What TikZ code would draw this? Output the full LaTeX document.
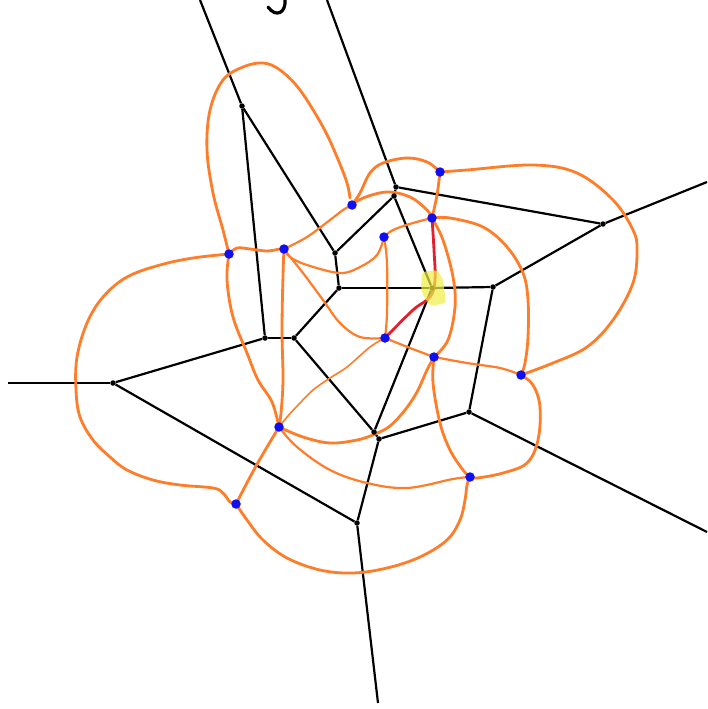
\documentclass[tikz,border=0pt]{standalone}
\usepackage{xcolor}
\usepackage{tikz}
\usetikzlibrary{arrows.meta, positioning}
\definecolor{penorange}{RGB}{255,125,40}
\definecolor{penred}{RGB}{228,30,45}
\definecolor{penblue}{RGB}{15,15,240}
\definecolor{marker}{RGB}{240,240,70}
\pgfdeclarelayer{edges}
\pgfdeclarelayer{curves}
\pgfsetlayers{edges,curves,main}

\begin{document}
\begin{tikzpicture}[x=1pt, y=-1pt,
    vertex/.style={circle, fill=black, inner sep=0pt, minimum size=5.5pt},
    site/.style={circle, fill=penblue, inner sep=0pt, minimum size=9.5pt},
    cell/.style={line width=2.2pt, black},
    stroke/.style={line width=2.8pt, penorange, line cap=round, line join=round},
    midstroke/.style={stroke, line width=2.2pt},
    thinstroke/.style={line width=1.6pt, penorange, line cap=round, line join=round}]
    \useasboundingbox (0,0) rectangle (707,709);

    \node[vertex] (va) at (242,106) {};
    \node[vertex] (vb) at (396,187) {};
    \node[vertex] (vb2) at (394,196) {};
    \node[vertex] (vc) at (603,224) {};
    \node[vertex] (vd) at (335,253) {};
    \node[vertex] (ve) at (339,288) {};
    \node[vertex] (vm) at (432,288) {};
    \node[vertex] (vf) at (493,287) {};
    \node[vertex] (vg) at (265,338) {};
    \node[vertex] (vh) at (294,338) {};
    \node[vertex] (vi) at (113,383) {};
    \node[vertex] (vj) at (469,412) {};
    \node[vertex] (vk) at (374,432) {};
    \node[vertex] (vk2) at (379,439) {};
    \node[vertex] (vl) at (357,523) {};
    \coordinate (endtl) at (200,0);
    \coordinate (endtop) at (327,0);
    \coordinate (endleft) at (8,383);
    \coordinate (endright) at (707,182);
    \coordinate (endrb) at (707,532);
    \coordinate (endbot) at (378,703);

    \node[site] (s1) at (352,205) {};
    \node[site] (s2) at (440,172) {};
    \node[site] (s3) at (432,218) {};
    \node[site] (s4) at (384,237) {};
    \node[site] (s5) at (229,254) {};
    \node[site] (s6) at (284,249) {};
    \node[site] (s7) at (385,338) {};
    \node[site] (s8) at (434,357) {};
    \node[site] (s9) at (521,375) {};
    \node[site] (s10) at (279,427) {};
    \node[site] (s11) at (470,477) {};
    \node[site] (s12) at (236,504) {};

    \begin{pgfonlayer}{edges}
    \draw[cell] (endtl) -- (va);
    \draw[cell] (endtop) -- (vb);
    \draw[cell] (va) -- (vd);
    \draw[cell] (va) -- (vg);
    \draw[cell] (vb) -- (vb2);
    \draw[cell] (vb) -- (vc);
    \draw[cell] (vb2) -- (vd);
    \draw[cell] (vb2) -- (vm);
    \draw[cell] (vc) -- (endright);
    \draw[cell] (vc) -- (vf);
    \draw[cell] (vd) -- (ve);
    \draw[cell] (ve) -- (vm);
    \draw[cell] (vm) -- (vf);
    \draw[cell] (ve) -- (vh);
    \draw[cell] (vm) -- (vk);
    \draw[cell] (vg) -- (vh);
    \draw[cell] (vg) -- (vi);
    \draw[cell] (vi) -- (endleft);
    \draw[cell] (vi) -- (vl);
    \draw[cell] (vh) -- (vk);
    \draw[cell] (vk) -- (vk2);
    \draw[cell] (vk2) -- (vj);
    \draw[cell] (vk2) -- (vl);
    \draw[cell] (vl) -- (endbot);
    \draw[cell] (vj) -- (vf);
    \draw[cell] (vj) -- (endrb);
    \draw[line width=3.2pt, line cap=round] (285,0) .. controls (286,13) and (276,18) .. (268,7);
    \end{pgfonlayer}

    \begin{pgfonlayer}{curves}
    \draw[stroke] plot[smooth, tension=0.6] coordinates {(s12.center) (256,466) (s10.center)};
    \draw[stroke] plot[smooth, tension=0.6] coordinates {(s5.center) (193,258) (160,265) (127,277) (103,297) (87,323) (77,357) (76,390) (80,417) (93,440) (110,457) (127,470) (153,480) (180,485) (213,488) (223,493) (230,502) (s12.center)};
    \draw[stroke] plot[smooth, tension=0.6] coordinates {(s12.center) (247,520) (263,540) (287,558) (320,570) (353,573) (387,568) (420,557) (447,540) (460,520) (465,500) (467,485) (s11.center)};
    \draw[midstroke] plot[smooth, tension=0.6] coordinates {(s10.center) (297,447) (330,470) (367,483) (407,488) (453,479) (s11.center)};
    \draw[stroke] plot[smooth, tension=0.6] coordinates {(s10.center) (303,437) (330,443) (357,440) (375,434) (390,426) (405,410) (417,392) (427,370) (s8.center)};
    \draw[stroke] plot[smooth, tension=0.6] coordinates {(s6.center) (283,275) (282,330) (283,380) (281,413) (s10.center)};
    \draw[stroke] plot[smooth, tension=0.6] coordinates {(s5.center) (227,280) (233,317) (247,353) (258,380) (272,402) (s10.center)};
    \draw[thinstroke] plot[smooth, tension=0.6] coordinates {(s10.center) (287,417) (300,403) (313,390) (330,378) (347,367) (370,347) (s7.center)};
    \draw[stroke] plot[smooth, tension=0.6] coordinates {(s5.center) (237,248) (250,249) (267,251) (280,249) (s6.center)};
    \draw[midstroke] plot[smooth, tension=0.6] coordinates {(s6.center) (307,237) (330,220) (343,210) (s1.center)};
    \draw[midstroke] plot[smooth, tension=0.6] coordinates {(s6.center) (287,253) (303,273) (323,300) (340,323) (360,337) (s7.center)};
    \draw[midstroke] plot[smooth, tension=0.6] coordinates {(s6.center) (290,257) (307,265) (340,273) (360,267) (377,255) (s4.center)};
    \draw[stroke] plot[smooth, tension=0.6] coordinates {(s5.center) (223,230) (213,193) (207,150) (210,110) (223,80) (243,67) (263,63) (280,70) (300,90) (323,127) (337,157) (347,183) (350,198)};
    \draw[stroke] plot[smooth, tension=0.6] coordinates {(s1.center) (360,193) (370,173) (383,163) (407,158) (427,162) (s2.center)};
    \draw[stroke] plot[smooth, tension=0.6] coordinates {(s1.center) (363,198) (387,192) (410,197) (427,210) (s3.center)};
    \draw[stroke] plot[smooth, tension=0.6] coordinates {(s2.center) (437,195) (s3.center)};
    \draw[midstroke] plot[smooth, tension=0.6] coordinates {(s3.center) (413,223) (393,230) (s4.center)};
    \draw[midstroke] plot[smooth, tension=0.6] coordinates {(s4.center) (387,263) (387,313) (s7.center)};
    \draw[stroke] plot[smooth, tension=0.6] coordinates {(s3.center) (450,218) (483,227) (507,247) (523,273) (528,300) (528,337) (525,363) (s9.center)};
    \draw[stroke] plot[smooth, tension=0.6] coordinates {(s3.center) (443,240) (453,277) (455,307) (448,340) (s8.center)};
    \draw[stroke] plot[smooth, tension=0.6] coordinates {(s2.center) (467,170) (533,165) (577,173) (613,200) (633,230) (637,250) (633,283) (613,320) (587,347) (553,363) (s9.center)};
    \draw[midstroke] plot[smooth, tension=0.6] coordinates {(s8.center) (467,363) (500,368) (s9.center)};
    \draw[midstroke] plot[smooth, tension=0.6] coordinates {(s8.center) (410,348) (s7.center)};
    \draw[stroke] plot[smooth, tension=0.6] coordinates {(s8.center) (433,383) (440,423) (450,450) (463,470) (s11.center)};
    \draw[stroke] plot[smooth, tension=0.6] coordinates {(s9.center) (533,385) (540,407) (538,440) (527,463) (503,473) (477,478) (s11.center)};
    \draw[line width=2.8pt, penred, line cap=round] plot[smooth, tension=0.6] coordinates {(s7.center) (413,310) (430,297) (435,280) (434,250) (s3.center)};
    \end{pgfonlayer}

    \fill[marker, opacity=0.7, rounded corners=3pt] (422,272) -- (437,270) -- (443,279) -- (446,303) -- (431,306) -- (424,297) -- (421,289) -- cycle;
\end{tikzpicture}
\end{document}
